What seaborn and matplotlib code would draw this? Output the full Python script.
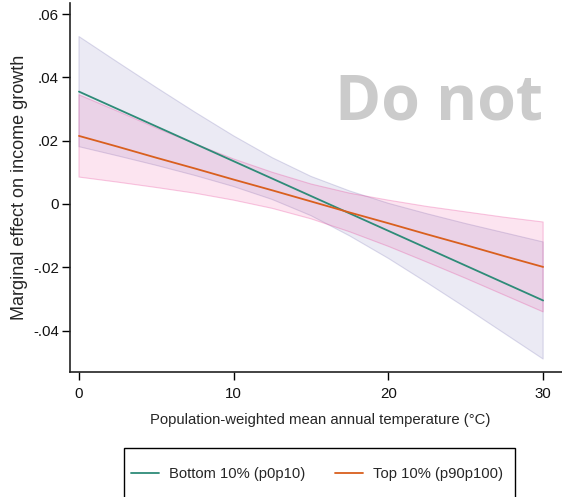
import numpy as np
import pandas as pd
import matplotlib
matplotlib.use("Agg")
import matplotlib.pyplot as plt
from matplotlib.patches import Rectangle
import seaborn as sns

# temperature grid (deg C) and values
temps = [0, 2.5, 5, 7.5, 10, 12.5, 15, 17.5, 20, 22.5, 25, 27.5, 30]

bottom_mid = [0.0355, 0.0300, 0.0245, 0.0190, 0.0135, 0.0080, 0.0025,
              -0.0030, -0.0085, -0.0140, -0.0195, -0.0250, -0.0305]
bottom_hi = [0.0529, 0.0448, 0.0368, 0.0290, 0.0215, 0.0146, 0.0087,
             0.0041, 0.0002, -0.0031, -0.0062, -0.0091, -0.0120]
bottom_lo = [0.0181, 0.0152, 0.0122, 0.0090, 0.0055, 0.0014, -0.0037,
             -0.0101, -0.0172, -0.0249, -0.0328, -0.0409, -0.0490]

top_mid = [0.0215, 0.0181, 0.0146, 0.0112, 0.0077, 0.0043, 0.0008,
           -0.0027, -0.0061, -0.0096, -0.0130, -0.0165, -0.0199]
top_hi = [0.0345, 0.0293, 0.0240, 0.0190, 0.0142, 0.0100, 0.0063,
          0.0034, 0.0012, -0.0008, -0.0025, -0.0042, -0.0057]
top_lo = [0.0085, 0.0069, 0.0052, 0.0034, 0.0012, -0.0014, -0.0047,
          -0.0088, -0.0134, -0.0184, -0.0235, -0.0288, -0.0341]

groups = ["Bottom 10% (p0p10)", "Top 10% (p90p100)"]
line_colors = ["#2e8b78", "#d95f1e"]
band_colors = ["#7570b3", "#e7298a"]

yticks = [-0.04, -0.02, 0, 0.02, 0.04, 0.06]
ytick_labels = ["-.04", "-.02", "0", ".02", ".04", ".06"]
xticks = [0, 10, 20, 30]

df = pd.DataFrame({
    "temp": temps * 2,
    "effect": bottom_mid + top_mid,
    "group": [groups[0]] * len(temps) + [groups[1]] * len(temps),
})

sns.set_style("ticks")
plt.rcParams["font.family"] = ["Liberation Sans", "DejaVu Sans"]

fig = plt.figure(figsize=(5.62, 4.97), dpi=100)
ax = fig.add_axes([70 / 562, 1 - 372 / 497, 1 - 70 / 562, (372 - 3) / 497])

# confidence bands
ax.fill_between(temps, bottom_lo, bottom_hi, facecolor=band_colors[0], alpha=0.14,
                edgecolor="none", zorder=1)
ax.fill_between(temps, bottom_lo, bottom_hi, facecolor="none",
                edgecolor=(0.46, 0.44, 0.70, 0.25), linewidth=0.8, zorder=1)
ax.fill_between(temps, top_lo, top_hi, facecolor=band_colors[1], alpha=0.12,
                edgecolor="none", zorder=2)
ax.fill_between(temps, top_lo, top_hi, facecolor="none",
                edgecolor=(0.91, 0.16, 0.54, 0.25), linewidth=0.8, zorder=2)

sns.lineplot(data=df, x="temp", y="effect", hue="group", palette=line_colors,
             linewidth=1.3, ax=ax, zorder=3)

ax.set_xlim(-0.58, 31.22)
ax.set_ylim(-0.0531, 0.0635)
ax.set_xticks(xticks)
ax.set_xticklabels([str(t) for t in xticks])
ax.set_yticks(yticks)
ax.set_yticklabels(ytick_labels)
ax.tick_params(axis="both", labelsize=10.8, length=6, width=1, color="black",
               labelcolor="#111111")
ax.tick_params(axis="x", pad=5)
ax.tick_params(axis="y", pad=2)
sns.despine(ax=ax)
for s in ["left", "bottom"]:
    ax.spines[s].set_color("#222222")
    ax.spines[s].set_linewidth(1.2)

ax.set_xlabel("Population-weighted mean annual temperature (°C)", fontsize=10.7,
              va="top")
ax.xaxis.set_label_coords(0.508, -0.11)
ax.set_ylabel("Marginal effect on income growth", fontsize=13)
ax.yaxis.set_label_coords(-0.085, 0.5)

ax.legend_.remove()
handles, labels = ax.get_legend_handles_labels()
fig.legend(handles, labels, ncol=2, loc="center left",
           bbox_to_anchor=(131 / 562, 1 - 474 / 497), fontsize=10.6,
           frameon=False, borderpad=0, borderaxespad=0, handlelength=1.9,
           handletextpad=0.68, columnspacing=2.0)
# legend frame runs off the bottom of the picture, like the reference
fig.patches.append(Rectangle((124 / 562, -0.05), (515 - 124) / 562, 0.05 + 1 - 448 / 497,
                             transform=fig.transFigure, facecolor="none",
                             edgecolor="black", linewidth=1.0))

# watermark
fig.text(335 / 562, 1 - 120 / 497, "Do not copy", fontsize=45, fontweight="bold",
         family="Open Sans", color="#cbcbcb", va="baseline", ha="left", zorder=0)

fig.savefig("out.png", dpi=100)
